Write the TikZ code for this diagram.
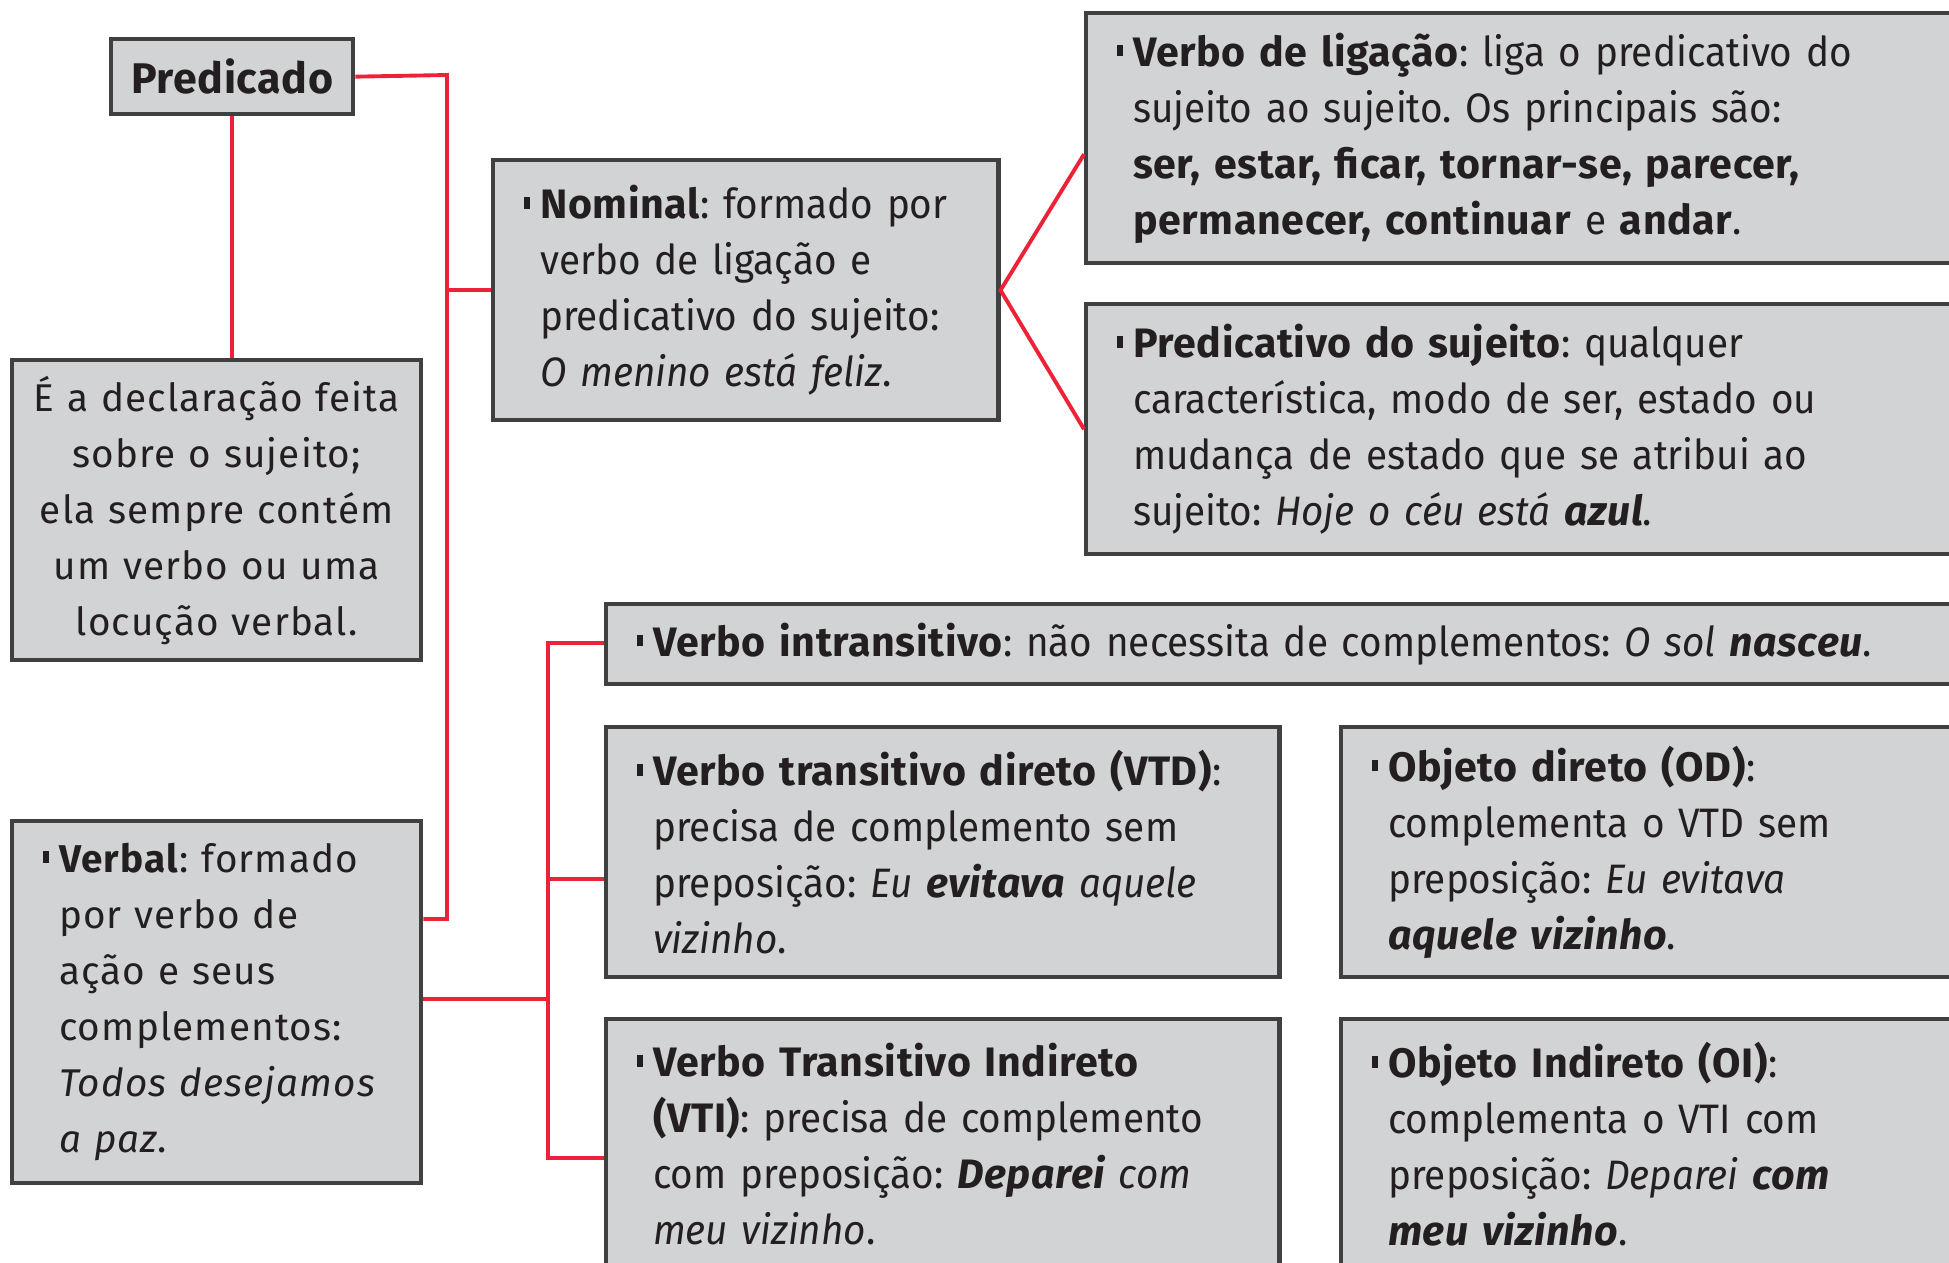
\documentclass[tikz,border=0pt]{standalone}
\usepackage{fontspec}
\setmainfont{Fira Sans}[UprightFeatures={FakeStretch=0.94}, ItalicFeatures={FakeStretch=0.94}, BoldFeatures={LetterSpace=1.5}, BoldItalicFeatures={LetterSpace=1.5}]
\newfontfamily\widefont{Fira Sans}[LetterSpace=3]
\frenchspacing
\usetikzlibrary{calc, positioning}
\definecolor{boxfill}{RGB}{209,211,212}
\definecolor{boxline}{RGB}{64,64,65}
\definecolor{linkred}{RGB}{236,34,56}
\definecolor{ink}{RGB}{35,31,32}
\tikzstyle{box} = [rectangle, draw=boxline, fill=boxfill, line width=1.2pt, anchor=north west, inner sep=0pt, align=left, text=ink, font=\fontsize{11.7}{15.9}\selectfont]
\tikzstyle{title} = [box, align=center, font=\fontsize{12.2}{16}\selectfont\bfseries]
\tikzstyle{link} = [draw=linkred, line width=1.1pt]
\newcommand{\entry}[1]{\leftskip=0.47cm\relax\llap{\rule[0.1cm]{0.065cm}{0.117cm}\hspace{0.1cm}}#1\par}

\begin{document}
\begin{tikzpicture}[x=0.01cm, y=-0.01cm]
		\useasboundingbox (0,0) rectangle (1949,1262);
		\clip (0,0) rectangle (1949,1262);
		% left column
		\node (Predicado) [title, minimum width=2.42cm, minimum height=0.75cm] at (109,37) {Predicado};
		\node (Declaracao) [box, align=center, text width=4.09cm, minimum height=3cm, font=\fontsize{11}{15.9}\selectfont\widefont] at (10,358) {É a declaração feita\\ sobre o sujeito;\\ ela sempre contém\\ um verbo ou uma\\ locução verbal.};
		\node (Verbal) [box, text width=4.09cm, minimum height=3.62cm, font=\fontsize{11}{15.9}\selectfont\widefont] at (10,819) {\entry{\textbf{Verbal}: formado\\ por verbo de\\ ação e seus\\ complementos:\\ \textit{Todos desejamos}\\ \textit{a paz}.}};
		% nominal branch
		\node (Nominal) [box, text width=5.05cm, minimum height=2.6cm] at (491,158) {\entry{\textbf{Nominal}: formado por\\ verbo de ligação e\\ predicativo do sujeito:\\ \textit{O menino está feliz}.}};
		\node (Ligacao) [box, text width=8.75cm, minimum height=2.5cm] at (1084,11) {\entry{\textbf{Verbo de ligação}: liga o predicativo do\\ sujeito ao sujeito. Os principais são:\\ \textbf{ser, estar, ficar, tornar-se, parecer,}\\ \textbf{permanecer, continuar} e \textbf{andar}.}};
		\node (PredSujeito) [box, text width=8.75cm, minimum height=2.5cm] at (1084,302) {\entry{\textbf{Predicativo do sujeito}: qualquer\\ característica, modo de ser, estado ou\\ mudança de estado que se atribui ao\\ sujeito: \textit{Hoje o céu está \textbf{azul}}.}};
		% verbal branch
		\node (Intransitivo) [box, text width=13.55cm, minimum height=0.8cm] at (604,602) {\entry{\textbf{Verbo intransitivo}: não necessita de complementos: \textit{O sol \textbf{nasceu}}.}};
		\node (VTD) [box, text width=6.73cm, minimum height=2.5cm] at (604,725) {\entry{\textbf{Verbo transitivo direto (VTD)}:\\ precisa de complemento sem\\ preposição: \textit{Eu \textbf{evitava} aquele}\\ \textit{vizinho}.}};
		\node (VTI) [box, text width=6.73cm, minimum height=2.5cm] at (604,1017) {\entry{\textbf{Verbo Transitivo Indireto}\\ \textbf{(VTI)}: precisa de complemento\\ com preposição: \textit{\textbf{Deparei} com}\\ \textit{meu vizinho}.}};
		\node (OD) [box, text width=6.2cm, minimum height=2.5cm] at (1339,725) {\entry{\textbf{Objeto direto (OD)}:\\ complementa o VTD sem\\ preposição: \textit{Eu evitava}\\ \textit{\textbf{aquele vizinho}}.}};
		\node (OI) [box, text width=6.2cm, minimum height=2.5cm] at (1339,1017) {\entry{\textbf{Objeto Indireto (OI)}:\\ complementa o VTI com\\ preposição: \textit{Deparei \textbf{com}}\\ \textit{\textbf{meu vizinho}}.}};
		% connectors
		\coordinate (BusTop) at (447,75);
		\coordinate (BusLow) at (447,919);
		\coordinate (TreeTop) at (548,643);
		\coordinate (TreeMid) at (548,999);
		\coordinate (TreeLow) at (548,1158);
		\draw [link] (Predicado.east) -- (BusTop) -- (BusLow) -- (BusLow -| Verbal.east);
		\draw [link] (BusTop |- Nominal.west) -- (Nominal.west);
		\draw [link] (Predicado.south) -- (Predicado.south |- Declaracao.north);
		\draw [link] ([yshift=-0.16cm]Ligacao.west) -- (Nominal.east) -- (PredSujeito.west);
		\draw [link] (TreeMid -| Verbal.east) -- (TreeMid);
		\draw [link] (Intransitivo.west |- TreeTop) -- (TreeTop) -- (TreeLow) -- (TreeLow -| VTI.west);
		\draw [link] (TreeTop |- VTD.west) ++(0,27) -- ++(56,0);
		\end{tikzpicture}
\end{document}
